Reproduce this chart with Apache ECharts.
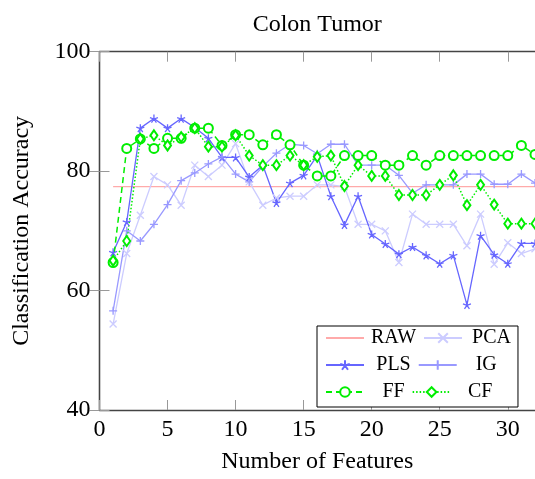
<!DOCTYPE html>
<html>
<head>
<meta charset="utf-8">
<script src="https://cdn.jsdelivr.net/npm/echarts@6/dist/echarts.min.js"></script>
<style>
  html, body { margin: 0; padding: 0; background: #fff; }
  #chart { width: 535px; height: 479px; }
</style>
</head>
<body>
<div id="chart"></div>
<script>
// number of features, 1..32
const features = [1, 2, 3, 4, 5, 6, 7, 8, 9, 10, 11, 12, 13, 14, 15, 16,
  17, 18, 19, 20, 21, 22, 23, 24, 25, 26, 27, 28, 29, 30, 31, 32];

const raw = [77.4, 77.4, 77.4, 77.4, 77.4, 77.4, 77.4, 77.4, 77.4, 77.4, 77.4, 77.4,
  77.4, 77.4, 77.4, 77.4, 77.4, 77.4, 77.4, 77.4, 77.4, 77.4, 77.4, 77.4,
  77.4, 77.4, 77.4, 77.4, 77.4, 77.4, 77.4, 77.4];
const pca = [54.4, 66.2, 72.6, 79.1, 77.7, 74.3, 81.0, 79.1, 81.0, 84.6, 78.2, 74.3,
  75.5, 75.8, 75.8, 77.7, 77.7, 77.4, 71.1, 71.1, 70.0, 64.7, 72.8, 71.1,
  71.1, 71.1, 67.5, 72.8, 64.4, 68.0, 66.2, 67.0];
const pls = [66.4, 71.5, 87.2, 88.8, 87.2, 88.8, 87.3, 85.5, 82.3, 82.3, 79.0, 81.0,
  74.7, 78.0, 79.3, 82.6, 75.8, 71.0, 75.8, 69.4, 67.8, 66.1, 67.3, 65.9,
  64.5, 65.9, 57.6, 69.2, 66.0, 64.5, 67.9, 67.9];
const ig = [56.6, 70.0, 68.3, 71.1, 74.4, 78.4, 79.7, 81.2, 82.4, 79.5, 78.2, 80.8,
  83.0, 84.5, 84.3, 82.9, 84.5, 84.5, 81.0, 81.0, 81.0, 79.3, 76.3, 77.7,
  77.7, 77.7, 79.5, 79.5, 77.8, 77.8, 79.5, 78.0];
const ff = [64.7, 83.8, 85.4, 83.8, 85.5, 85.5, 87.2, 87.2, 84.3, 86.1, 86.1, 84.4,
  86.1, 84.4, 81.0, 79.2, 79.2, 82.6, 82.6, 82.6, 81.0, 81.0, 82.6, 81.0,
  82.6, 82.6, 82.6, 82.6, 82.6, 82.6, 84.3, 82.8];
const cf = [65.0, 68.3, 85.4, 86.0, 84.3, 85.7, 87.2, 84.1, 84.1, 86.0, 82.6, 81.0,
  81.0, 82.6, 81.0, 82.4, 82.6, 77.5, 81.0, 79.2, 79.2, 76.0, 76.0, 76.0,
  77.7, 79.3, 74.3, 77.7, 74.4, 71.2, 71.2, 71.2];

const font = "'Liberation Serif', 'DejaVu Serif', serif";

const starPath = 'path://M5,5L5,0M5,5L9.755,3.455M5,5L7.939,9.045M5,5L2.061,9.045M5,5L0.245,3.455';
const plusPath = 'path://M5,0L5,10M0,5L10,5';
const crossPath = 'path://M0,0L10,10M10,0L0,10';

function pairs(values) {
  return features.map((x, i) => [x, values[i]]);
}

function lineSeries(name, values, color, opts) {
  return Object.assign({
    name: name,
    type: 'line',
    data: pairs(values),
    lineStyle: { color: color, width: 1.3 },
    itemStyle: { color: color, borderColor: color, borderWidth: 1.3 },
    emphasis: { disabled: true },
    animation: false
  }, opts);
}

const chart = echarts.init(document.getElementById('chart'));

const tickStyle = { show: true, inside: true, length: 10, lineStyle: { color: '#999', width: 1 } };
const lineStyleAxis = { show: true, lineStyle: { color: '#444', width: 1.3 } };

chart.setOption({
  backgroundColor: '#fff',
  animation: false,
  grid: { left: 99.5, top: 51.7, width: 437.8, bottom: 64.3, containLabel: false },
  xAxis: [
    {
      type: 'value', min: 0, max: 32, interval: 5, position: 'bottom',
      name: 'Number of Features', nameLocation: 'middle', nameGap: 40,
      nameTextStyle: { fontFamily: font, fontSize: 24, color: '#000' },
      axisLine: lineStyleAxis, axisTick: tickStyle, splitLine: { show: false },
      axisLabel: { fontFamily: font, fontSize: 24, color: '#000', margin: 8, showMaxLabel: false }
    },
    {
      type: 'value', min: 0, max: 32, interval: 5, position: 'top',
      name: 'Colon Tumor', nameLocation: 'middle', nameGap: 15,
      nameTextStyle: { fontFamily: font, fontSize: 24, color: '#000' },
      axisLine: lineStyleAxis, axisTick: tickStyle, splitLine: { show: false },
      axisLabel: { show: false }
    }
  ],
  yAxis: [
    {
      type: 'value', min: 40, max: 100, interval: 20, position: 'left',
      name: 'Classification Accuracy', nameLocation: 'middle', nameGap: 66,
      nameTextStyle: { fontFamily: font, fontSize: 24, color: '#000' },
      axisLine: lineStyleAxis, axisTick: tickStyle, splitLine: { show: false },
      axisLabel: { fontFamily: font, fontSize: 24, color: '#000', margin: 9 }
    },
    {
      type: 'value', min: 40, max: 100, interval: 20, position: 'right',
      axisLine: lineStyleAxis, axisTick: tickStyle, splitLine: { show: false },
      axisLabel: { show: false }
    }
  ],
  legend: {
    left: 317, top: 326, width: 200,
    orient: 'horizontal',
    padding: [2, 7, 5, 8],
    itemGap: 7,
    itemWidth: 38,
    itemHeight: 12,
    backgroundColor: '#fff',
    borderColor: '#000',
    borderWidth: 1,
    borderRadius: 0,
    selectedMode: false,
    formatter: '{a|{name}}',
    textStyle: {
      fontFamily: font, fontSize: 20, color: '#000',
      rich: { a: { fontFamily: font, fontSize: 20, width: 49, height: 18, align: 'center' } }
    },
    data: [
      { name: 'RAW', itemStyle: { opacity: 0 } },
      'PCA', 'PLS', 'IG', 'FF', 'CF'
    ]
  },
  series: [
    lineSeries('RAW', raw, '#ffaaaa', { showSymbol: false, symbol: 'none' }),
    lineSeries('PCA', pca, '#ccccff', { symbol: crossPath, symbolSize: 7 }),
    lineSeries('PLS', pls, '#6666ff', { symbol: starPath, symbolSize: 8 }),
    lineSeries('IG', ig, '#9999ff', { symbol: plusPath, symbolSize: 8 }),
    lineSeries('FF', ff, '#00ee00', {
      symbol: 'emptyCircle', symbolSize: 9,
      lineStyle: { color: '#00ee00', width: 1.5, type: [6, 4] },
      itemStyle: { color: '#00ee00', borderColor: '#00ee00', borderWidth: 1.6 }
    }),
    lineSeries('CF', cf, '#00ee00', {
      symbol: 'emptyDiamond', symbolSize: [7, 10],
      lineStyle: { color: '#00ee00', width: 1.5, type: [1.5, 2] },
      itemStyle: { color: '#00ee00', borderColor: '#00ee00', borderWidth: 1.6 }
    })
  ]
});
</script>
</body>
</html>
